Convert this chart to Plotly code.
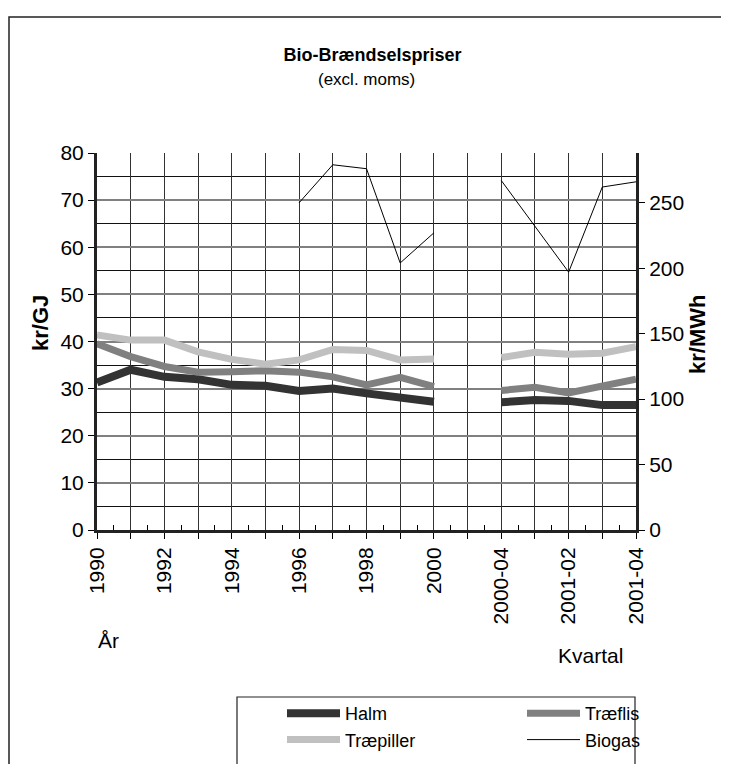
import plotly.graph_objects as go

# ── Data ───────────────────────────────────────────────────────────────────────
CATEGORIES = ["1990", "1991", "1992", "1993", "1994", "1995", "1996", "1997",
              "1998", "1999", "2000", "", "2000-04", "2001-01", "2001-02",
              "2001-03", "2001-04"]
TICK_LABELS = ["1990", "", "1992", "", "1994", "", "1996", "", "1998", "",
               "2000", "", "2000-04", "", "2001-02", "", "2001-04"]

# kr/GJ (left axis)
HALM = [31.3, 34.0, 32.5, 32.0, 30.8, 30.6, 29.5, 30.0, 29.0, 28.0, 27.2,
        None, 27.1, 27.6, 27.4, 26.5, 26.5]
TRAEFLIS = [39.5, 36.8, 34.7, 33.5, 33.6, 33.8, 33.5, 32.5, 30.8, 32.4, 30.4,
            None, 29.6, 30.3, 29.1, 30.4, 32.0]
TRAEPILLER = [41.4, 40.3, 40.3, 37.8, 36.2, 35.2, 36.1, 38.3, 38.1, 36.1, 36.3,
              None, 36.6, 37.7, 37.3, 37.5, 38.9]
# kr/MWh (right axis)
BIOGAS = [None, None, None, None, None, None, 250, 279, 276, 204, 227,
          None, 267, 232, 197, 262, 266]

FONT = "Arial, Liberation Sans, sans-serif"
X = list(range(len(CATEGORIES)))

# plot area in pixels
L, R, T, B = 89, 628, 145, 522


def px(x):
    return (x - L) / (R - L)


def py(y):
    return (B - y) / (B - T)


fig = go.Figure()
fig.add_trace(go.Scatter(x=X, y=HALM, name="Halm", mode="lines", legend="legend",
                         line=dict(color="#333333", width=8)))
fig.add_trace(go.Scatter(x=X, y=TRAEFLIS, name="Træflis", mode="lines", legend="legend2",
                         line=dict(color="#808080", width=7)))
fig.add_trace(go.Scatter(x=X, y=TRAEPILLER, name="Træpiller", mode="lines", legend="legend",
                         line=dict(color="#c0c0c0", width=7)))
fig.add_trace(go.Scatter(x=X, y=BIOGAS, name="Biogas", mode="lines", yaxis="y2",
                         legend="legend2", line=dict(color="#000000", width=1)))

legend_style = dict(orientation="v", yanchor="top", itemwidth=53,
                    bgcolor="rgba(0,0,0,0)", font=dict(size=18),
                    traceorder="normal", tracegroupgap=0)

fig.update_layout(
    width=729, height=764,
    margin=dict(l=L, r=729 - R, t=T, b=764 - B, autoexpand=False),
    paper_bgcolor="white", plot_bgcolor="white",
    font=dict(family=FONT, size=21, color="black"),
    showlegend=True,
    title=dict(text="<b>Bio-Brændselspriser</b>", x=0.5, xanchor="center",
               y=1 - 47 / 764, yanchor="middle", font=dict(size=18)),
    xaxis=dict(
        range=[0, 16], tickmode="array", tickvals=X, ticktext=TICK_LABELS,
        tickangle=-90, ticks="outside", ticklen=6, tickcolor="black",
        showline=True, linecolor="#222222", linewidth=3,
        showgrid=True, gridcolor="#333333", gridwidth=1, zeroline=False,
        minor=dict(ticks="inside", tick0=0.5, dtick=1, ticklen=5,
                   tickcolor="black", showgrid=False),
    ),
    yaxis=dict(
        range=[0, 80], dtick=10, ticks="outside", ticklen=6, tickcolor="black",
        showline=True, linecolor="#222222", linewidth=3,
        showgrid=True, gridcolor="#808080", gridwidth=1.5, zeroline=False,
        minor=dict(dtick=5, showgrid=True, gridcolor="#111111", gridwidth=1),
    ),
    yaxis2=dict(
        range=[0, 288], dtick=50, overlaying="y", side="right",
        ticks="outside", ticklen=6, tickcolor="black",
        showline=True, linecolor="#222222", linewidth=3,
        showgrid=False, zeroline=False,
    ),
    legend=dict(x=px(274), y=py(687), **legend_style),
    legend2=dict(x=px(514), y=py(687), **legend_style),
    annotations=[
        dict(text="(excl. moms)", x=0.5, y=py(72), xref="paper",
             yref="paper", xanchor="center", yanchor="middle",
             showarrow=False, font=dict(size=17)),
        # axis titles
        dict(text="<b>kr/GJ</b>", x=px(32), y=py(315), textangle=-90,
             xref="paper", yref="paper", xanchor="center", yanchor="middle",
             showarrow=False, font=dict(size=22)),
        dict(text="<b>kr/MWh</b>", x=px(689), y=py(327), textangle=-90,
             xref="paper", yref="paper", xanchor="center", yanchor="middle",
             showarrow=False, font=dict(size=22)),
        dict(text="År", x=px(100), y=py(632), xref="paper", yref="paper",
             xanchor="center", yanchor="middle", showarrow=False),
        dict(text="Kvartal", x=px(582), y=py(647), xref="paper", yref="paper",
             xanchor="center", yanchor="middle", showarrow=False),
    ],
    shapes=[
        # outer chart frame
        dict(type="rect", xref="paper", yref="paper",
             x0=px(1), x1=px(760), y0=py(800), y1=py(9),
             line=dict(color="#222222", width=1.5), layer="below"),
        # legend frame
        dict(type="rect", xref="paper", yref="paper",
             x0=px(229), x1=px(627), y0=py(800), y1=py(689),
             line=dict(color="#222222", width=1.2), layer="below"),
    ],
)

fig.write_html("out.html")
